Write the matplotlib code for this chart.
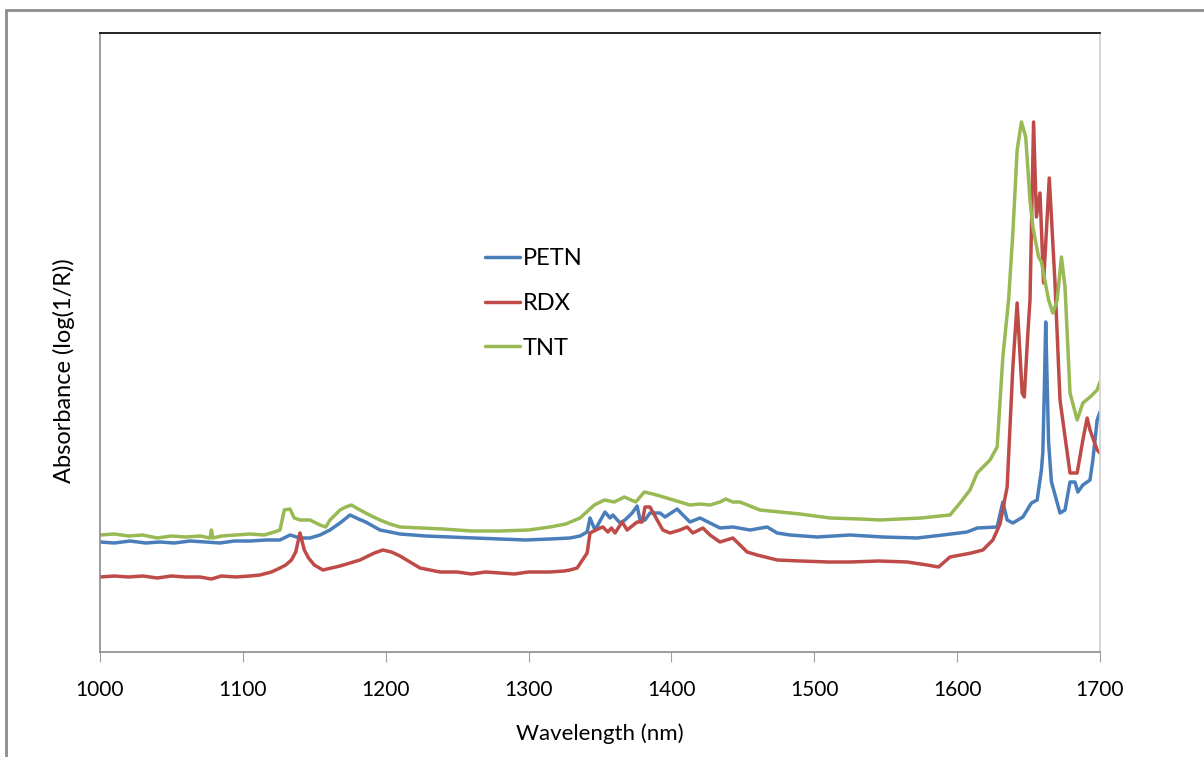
import matplotlib.pyplot as plt
from matplotlib.patches import Rectangle

plt.rcParams["font.family"] = ["Lato", "DejaVu Sans"]

# NIR reflectance spectra, absorbance in arbitrary log(1/R) units
petn_wl = [1000, 1010, 1021, 1032, 1042, 1052, 1063, 1074, 1084, 1094, 1105, 1116, 1126,
           1133, 1140, 1147, 1154, 1161, 1168, 1175, 1181, 1186, 1196, 1210, 1228, 1245,
           1262, 1280, 1298, 1315, 1329, 1336, 1341, 1343, 1346.5, 1353.5, 1357, 1359,
           1364, 1367.5, 1372.5, 1376, 1378, 1381.5, 1385, 1392, 1395.5, 1404, 1408, 1413,
           1420, 1427, 1434, 1443, 1455, 1467, 1474, 1483, 1502, 1525, 1548, 1572, 1590,
           1607, 1614, 1628, 1632, 1635, 1639, 1646, 1652, 1656, 1659, 1660, 1661, 1662,
           1663, 1664, 1666, 1667, 1672, 1675.5, 1679, 1682.5, 1684.5, 1688, 1693, 1695,
           1698, 1700]
petn_abs = [0.110, 0.109, 0.111, 0.109, 0.110, 0.109, 0.111, 0.110, 0.109, 0.111, 0.111,
            0.112, 0.112, 0.117, 0.114, 0.114, 0.117, 0.122, 0.129, 0.137, 0.133, 0.130,
            0.122, 0.118, 0.116, 0.115, 0.114, 0.113, 0.112, 0.113, 0.114, 0.116, 0.120,
            0.134, 0.122, 0.140, 0.134, 0.137, 0.129, 0.132, 0.139, 0.146, 0.132, 0.132,
            0.139, 0.139, 0.135, 0.143, 0.137, 0.130, 0.134, 0.129, 0.124, 0.125, 0.122,
            0.125, 0.119, 0.117, 0.115, 0.117, 0.115, 0.114, 0.117, 0.120, 0.124,
            0.125, 0.150, 0.132, 0.129, 0.135, 0.149, 0.152, 0.182, 0.200, 0.260, 0.330,
            0.270, 0.210, 0.170, 0.165, 0.139, 0.142, 0.170, 0.170, 0.160, 0.167, 0.172,
            0.192, 0.232, 0.240]

rdx_wl = [1000, 1010, 1020, 1030, 1040, 1050, 1060, 1070, 1078, 1085, 1095, 1105, 1112,
          1120, 1126, 1130, 1134, 1137, 1140, 1143, 1146, 1150, 1156, 1162, 1168, 1175,
          1182, 1192, 1198, 1204, 1210, 1217, 1224, 1238, 1250, 1260, 1270, 1280, 1290,
          1300, 1315, 1325, 1329, 1334, 1341, 1343, 1350, 1352, 1355.5, 1358, 1360.5,
          1365.5, 1369, 1376, 1379.5, 1381.5, 1385, 1390, 1394, 1399, 1406, 1411, 1415,
          1422, 1427, 1434, 1443, 1453, 1460, 1474, 1490, 1510, 1525, 1545, 1565, 1579,
          1587, 1595, 1610, 1618, 1625, 1630, 1635, 1639, 1642, 1645.5, 1647, 1649.5,
          1651, 1653.5, 1655.5, 1658, 1660.5, 1664.5, 1668.5, 1672, 1679, 1684, 1688,
          1691, 1693, 1698, 1700]
rdx_abs = [0.075, 0.076, 0.075, 0.076, 0.074, 0.076, 0.075, 0.075, 0.073, 0.076, 0.075,
           0.076, 0.077, 0.080, 0.084, 0.087, 0.092, 0.100, 0.119, 0.102, 0.094, 0.087,
           0.082, 0.084, 0.086, 0.089, 0.092, 0.099, 0.102, 0.100, 0.096, 0.090, 0.084,
           0.080, 0.080, 0.078, 0.080, 0.079, 0.078, 0.080, 0.080, 0.081, 0.082, 0.084,
           0.099, 0.119, 0.124, 0.125, 0.120, 0.124, 0.119, 0.130, 0.122, 0.130, 0.130,
           0.145, 0.145, 0.132, 0.122, 0.119, 0.122, 0.125, 0.119, 0.124, 0.117, 0.110,
           0.114, 0.100, 0.097, 0.092, 0.091, 0.090, 0.090, 0.091, 0.090, 0.087, 0.085,
           0.095, 0.099, 0.102, 0.112, 0.128, 0.165, 0.285, 0.349, 0.259, 0.255, 0.319,
           0.352, 0.530, 0.435, 0.459, 0.369, 0.474, 0.369, 0.252, 0.179, 0.179, 0.212,
           0.234, 0.222, 0.202, 0.199]

tnt_wl = [1000, 1010, 1020, 1030, 1040, 1050, 1060, 1070, 1077, 1078, 1079, 1085, 1095,
          1105, 1115, 1122, 1126, 1129, 1133, 1136, 1140, 1147, 1154, 1158, 1161, 1168,
          1172, 1176, 1182, 1190, 1196, 1203, 1210, 1225, 1240, 1260, 1280, 1300, 1315,
          1326, 1336, 1346, 1353, 1360, 1367, 1375, 1381, 1387, 1392, 1399, 1406, 1413,
          1420, 1427, 1434, 1438, 1443, 1448, 1455, 1462, 1476, 1490, 1511, 1532, 1546,
          1560, 1575, 1588, 1595, 1602, 1609, 1614, 1623, 1628, 1632, 1636, 1639, 1642,
          1645, 1648, 1651, 1653, 1657, 1659, 1664, 1667, 1670, 1673, 1675.5, 1679, 1684,
          1688, 1693, 1698, 1700]
tnt_abs = [0.117, 0.118, 0.116, 0.117, 0.114, 0.116, 0.115, 0.116, 0.114, 0.122, 0.114,
           0.116, 0.117, 0.118, 0.117, 0.120, 0.122, 0.142, 0.143, 0.134, 0.132, 0.132,
           0.127, 0.125, 0.132, 0.142, 0.145, 0.147, 0.142, 0.136, 0.132, 0.128, 0.125,
           0.124, 0.123, 0.121, 0.121, 0.122, 0.125, 0.128, 0.134, 0.147, 0.152, 0.150,
           0.155, 0.150, 0.160, 0.158, 0.156, 0.153, 0.150, 0.147, 0.148, 0.147, 0.150,
           0.153, 0.150, 0.150, 0.146, 0.142, 0.140, 0.138, 0.134, 0.133, 0.132, 0.133,
           0.134, 0.136, 0.137, 0.149, 0.162, 0.179, 0.192, 0.205, 0.295, 0.352, 0.419,
           0.502, 0.530, 0.515, 0.452, 0.425, 0.395, 0.390, 0.352, 0.339, 0.352, 0.395,
           0.365, 0.259, 0.232, 0.249, 0.255, 0.262, 0.270]

SERIES = [
    ("PETN", petn_wl, petn_abs, "#4a7ebb"),
    ("RDX", rdx_wl, rdx_abs, "#be4b48"),
    ("TNT", tnt_wl, tnt_abs, "#98b954"),
]

fig = plt.figure(figsize=(12.04, 7.57), dpi=100)
ax = fig.add_axes([100 / 1204, 105 / 757, 1000 / 1204, 619 / 757])

for name, wl, ab, col in SERIES:
    ax.plot(wl, ab, color=col, lw=2.5, label=name,
            solid_joinstyle="round", solid_capstyle="round")

ax.set_xlim(1000, 1700)
ax.set_ylim(0, 0.619)
ax.set_xticks(range(1000, 1701, 100))
ax.set_yticks([])
ax.tick_params(axis="x", direction="out", length=7, color="#a0a0a0", labelsize=15, pad=13)

ax.spines["left"].set_color("#8c8c8c")
ax.spines["bottom"].set_color("#8c8c8c")
ax.spines["top"].set_color("black")
ax.spines["right"].set_color("#d0d0d0")
for s in ax.spines.values():
    s.set_linewidth(1.2)

ax.set_xlabel("Wavelength (nm)", fontsize=16, labelpad=17)
ax.set_ylabel("Absorbance (log(1/R))", fontsize=17)
ax.yaxis.set_label_coords(-0.025, 0.455)

ax.legend(loc="upper left", bbox_to_anchor=(0.385, 0.652), frameon=False, fontsize=17,
          handlelength=1.5, handletextpad=0.1, labelspacing=1.0,
          borderpad=0, borderaxespad=0)

# outer chart border
fig.patches.append(Rectangle((6 / 1204, -0.02), 1.2, (747 / 757) + 0.02,
                             transform=fig.transFigure, fill=False,
                             edgecolor="#8c8c8c", lw=2))

fig.savefig("out.png", dpi=100)
